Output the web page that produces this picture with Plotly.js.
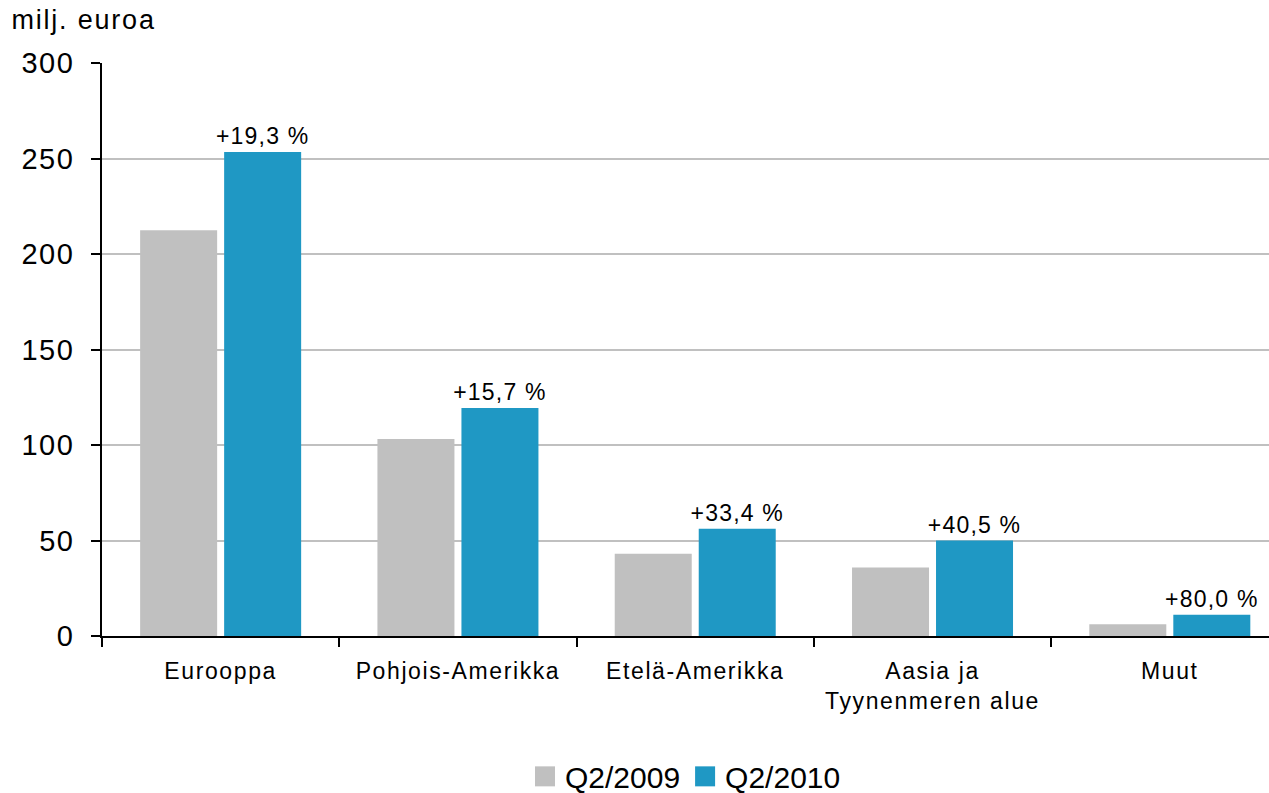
<!DOCTYPE html>
<html>
<head>
<meta charset="utf-8">
<script src="https://cdn.plot.ly/plotly-3.0.1.min.js"></script>
<style>
html,body{margin:0;padding:0;background:#fff;}
#chart{width:1269px;height:793px;}
#chart .xtick text{letter-spacing:1.6px;}
#chart .ytick text{letter-spacing:1.4px;}
#chart .textpoint text, #chart .bartext{letter-spacing:1.2px;}
#chart .gtitle{letter-spacing:1.8px;}
</style>
</head>
<body>
<div id="chart"></div>
<script>
const categories = ["Eurooppa", "Pohjois-Amerikka", "Etelä-Amerikka", "Aasia ja<br>Tyynenmeren alue", "Muut"];
const q2_2009 = [212.4, 103.2, 43.0, 35.9, 6.1];
const q2_2010 = [253.4, 119.4, 56.1, 50.0, 11.1];
const changeLabels = ["+19,3 %", "+15,7 %", "+33,4 %", "+40,5 %", "+80,0 %"];
const seriesNames = ["Q2/2009", "Q2/2010"];
const yTicks = [0, 50, 100, 150, 200, 250, 300];

const FONT = "Arial, 'Liberation Sans', sans-serif";

const traces = [
  {
    type: "bar", name: seriesNames[0], x: categories, y: q2_2009,
    marker: {color: "#c0c0c0"}, hoverinfo: "none"
  },
  {
    type: "bar", name: seriesNames[1], x: categories, y: q2_2010,
    marker: {color: "#1f98c4"}, hoverinfo: "none",
    text: changeLabels, textposition: "outside", cliponaxis: false,
    constraintext: "none",
    textfont: {family: FONT, size: 23, color: "#000"}
  }
];

const layout = {
  width: 1269, height: 793,
  margin: {l: 102, r: 0, t: 63, b: 157},
  paper_bgcolor: "#fff", plot_bgcolor: "#fff",
  font: {family: FONT, color: "#000"},
  title: {
    text: "milj. euroa", x: 0.009, xanchor: "left",
    y: 0.975, yanchor: "middle", yref: "container",
    font: {family: FONT, size: 27, color: "#000"}
  },
  barmode: "group", bargap: 0.292, bargroupgap: 0.0833,
  showlegend: true,
  legend: {
    orientation: "h", x: 0.5, xanchor: "center",
    y: 0.021, yanchor: "middle", yref: "container",
    font: {family: FONT, size: 30, color: "#000"},
    itemwidth: 30, traceorder: "normal"
  },
  xaxis: {
    type: "category", range: [-0.5, 4.418],
    showline: true, linecolor: "#000", linewidth: 2,
    ticks: "outside", tickson: "boundaries", ticklen: 9, tickwidth: 2, tickcolor: "#000",
    showgrid: false, zeroline: false, ticklabelstandoff: 13,
    tickfont: {family: FONT, size: 23, color: "#000"},
    fixedrange: true
  },
  yaxis: {
    range: [0, 300], tickvals: yTicks,
    showline: true, linecolor: "#000", linewidth: 2,
    ticks: "outside", ticklen: 9, tickwidth: 2, tickcolor: "#000",
    showgrid: true, gridcolor: "#c0c0c0", gridwidth: 2,
    zeroline: false, ticklabelstandoff: 11,
    tickfont: {family: FONT, size: 29, color: "#000"},
    fixedrange: true
  }
};

const gd = document.getElementById("chart");
Plotly.newPlot(gd, traces, layout, {displayModeBar: false, staticPlot: true}).then(function(){
  gd.querySelectorAll(".legendpoints path").forEach(function(p){
    p.setAttribute("d", "M10,10H-10V-10H10Z");
  });
});
</script>
</body>
</html>
